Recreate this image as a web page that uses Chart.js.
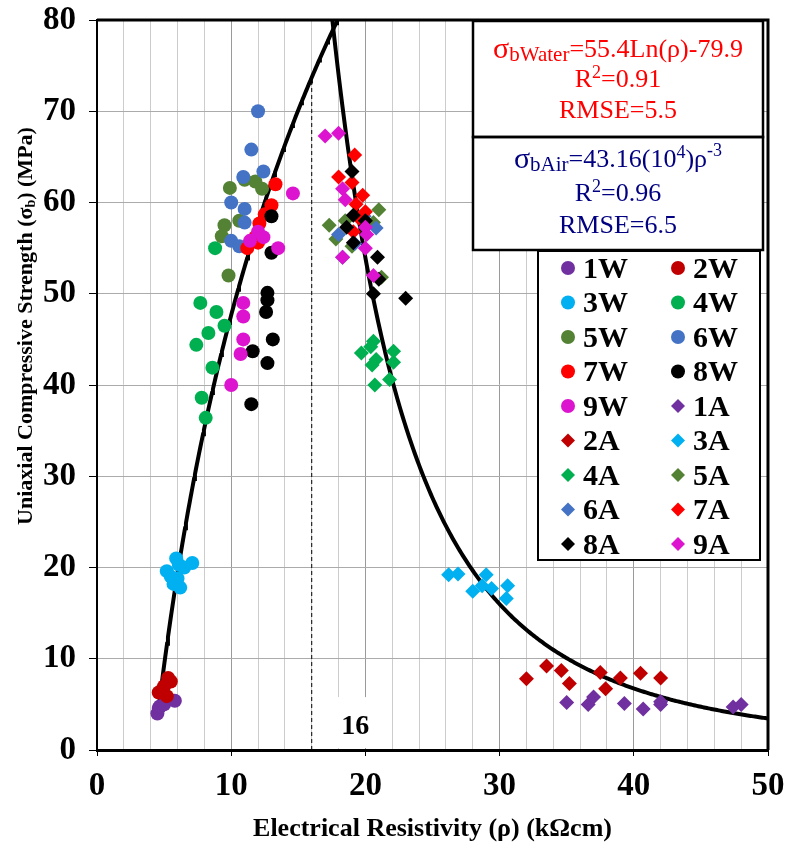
<!DOCTYPE html>
<html>
<head>
<meta charset="utf-8">
<script src="https://cdn.jsdelivr.net/npm/chart.js@4.4.0/dist/chart.umd.min.js"></script>
<style>
  html, body { margin: 0; padding: 0; background: #fff; }
  #wrap { position: relative; width: 788px; height: 849px; }
</style>
</head>
<body>
<div id="wrap"><canvas id="chart" width="788" height="849"></canvas></div>
<script>
// series names and colours (W = water saturated, A = air dry)
var seriesNames = ['1W', '2W', '3W', '4W', '5W', '6W', '7W', '8W', '9W',
                   '1A', '2A', '3A', '4A', '5A', '6A', '7A', '8A', '9A'];
var seriesColors = ['#7030A0', '#C00000', '#00B0F0', '#00B050', '#548235',
                    '#4472C4', '#FF0000', '#000000', '#DD14CF'];

// [resistivity kOhm.cm, strength MPa]
var data1W = [[4.5, 4.0], [4.6, 4.6], [4.7, 4.8], [5.0, 5.0], [5.8, 5.4]];
var data2W = [[5.3, 7.9], [5.5, 7.5], [5.0, 7.0], [4.6, 6.3], [5.2, 5.9], [4.8, 6.5]];
var data3W = [[5.2, 19.6], [5.5, 19.0], [5.9, 21.0], [6.1, 20.3], [6.5, 20.0],
              [7.1, 20.5], [5.7, 18.2], [6.2, 17.8], [6.0, 18.8]];
var data4W = [[8.8, 55.0], [7.7, 49.0], [8.9, 48.0], [9.5, 46.5], [8.3, 45.7],
              [7.4, 44.4], [8.6, 41.9], [7.8, 38.6], [8.1, 36.4]];
var data5W = [[9.9, 61.6], [11.0, 62.5], [11.8, 62.3], [12.3, 61.5], [9.5, 57.5],
              [9.3, 56.3], [10.6, 58.0], [9.8, 52.0]];
var data6W = [[12.0, 70.0], [11.5, 65.8], [12.4, 63.4], [10.9, 62.8], [10.0, 60.0],
              [11.0, 59.3], [11.0, 57.8], [10.0, 55.8], [10.6, 55.2]];
var data7W = [[13.3, 62.0], [13.0, 59.7], [12.5, 58.7], [12.1, 57.7], [11.8, 56.2],
              [11.2, 55.0], [12.0, 55.6]];
var data8W = [[13.0, 58.5], [13.0, 54.5], [12.7, 50.1], [12.7, 49.3], [12.6, 48.0],
              [13.1, 45.0], [11.6, 43.7], [12.7, 42.4], [11.5, 37.9]];
var data9W = [[14.6, 61.0], [12.0, 56.8], [12.4, 56.2], [11.4, 55.8], [13.5, 55.0],
              [10.9, 49.0], [10.9, 47.5], [10.9, 45.0], [10.7, 43.4], [10.0, 40.0]];
var data1A = [[35.0, 5.2], [36.6, 5.0], [37.0, 5.8], [39.3, 5.1], [40.7, 4.5],
              [42.0, 5.0], [42.0, 5.3], [47.4, 4.7], [48.0, 5.0]];
var data2A = [[32.0, 7.8], [33.5, 9.2], [34.6, 8.7], [35.2, 7.3], [37.5, 8.5],
              [37.9, 6.7], [39.0, 7.9], [40.5, 8.4], [42.0, 7.9]];
var data3A = [[26.2, 19.2], [26.9, 19.3], [29.0, 19.2], [28.0, 17.4], [28.7, 18.0],
              [29.4, 17.7], [30.6, 18.0], [30.5, 16.6]];
var data4A = [[20.6, 44.8], [20.4, 44.2], [19.7, 43.5], [20.8, 42.8], [20.5, 42.2],
              [22.1, 43.7], [22.1, 42.5], [20.7, 40.0], [21.8, 40.6]];
var data5A = [[17.3, 57.5], [17.8, 56.0], [18.5, 58.0], [19.0, 55.2], [20.6, 57.8],
              [21.0, 59.2], [21.2, 51.8]];
var data6A = [[18.0, 56.5], [18.3, 54.0], [19.2, 55.5], [19.9, 58.5], [20.8, 57.2]];
var data7A = [[19.2, 65.2], [18.0, 62.8], [19.0, 62.2], [19.8, 60.8], [19.3, 59.8],
              [20.0, 59.0], [19.5, 58.3], [19.1, 56.8]];
var data8A = [[19.0, 63.4], [19.1, 58.6], [18.6, 57.3], [20.0, 58.0], [19.1, 55.6],
              [20.9, 54.0], [21.0, 51.6], [20.6, 50.0], [23.0, 49.5]];
var data9A = [[17.0, 67.3], [18.0, 67.6], [18.3, 61.5], [18.5, 60.3], [20.0, 57.3],
              [20.1, 56.5], [20.0, 55.0], [18.3, 54.0], [20.6, 52.0]];

var allSeries = [data1W, data2W, data3W, data4W, data5W, data6W, data7W, data8W, data9W,
                 data1A, data2A, data3A, data4A, data5A, data6A, data7A, data8A, data9A];

// fitted curves printed on the chart
var waterA = 55.4, waterB = -79.9;      // sigma = 55.4 ln(rho) - 79.9
var airK = 43.16e4, airP = -3;          // sigma = 43.16e4 rho^-3
var waterRange = [4.55, 17.95];
var airRange = [17.5, 50];
var splitRho = 16;

var xTicks = [0, 10, 20, 30, 40, 50];
var serif = '"Liberation Serif", "Times New Roman", serif';

function waterFit(r) { return waterA * Math.log(r) + waterB; }
function airFit(r) { return airK * Math.pow(r, airP); }

function curvePoints(fn, from, to, n) {
    var pts = [];
    for (var i = 0; i <= n; i++) {
        var r = from + (to - from) * i / n;
        pts.push({x: r, y: fn(r)});
    }
    return pts;
}

var datasets = [];
allSeries.forEach(function (s, i) {
    var col = seriesColors[i % 9];
    var isAir = i >= 9;
    datasets.push({
        label: seriesNames[i],
        data: s.map(function (p) { return {x: p[0], y: p[1]}; }),
        pointStyle: isAir ? 'rectRot' : 'circle',
        pointRadius: isAir ? 7.5 : 7,
        backgroundColor: col,
        borderColor: col,
        borderWidth: 0,
        order: 100 - i
    });
});
datasets.push({
    label: 'water fit',
    data: curvePoints(waterFit, waterRange[0], waterRange[1], 200),
    showLine: true, pointRadius: 0, borderColor: '#000', borderWidth: 4,
    order: 200
});
datasets.push({
    label: 'air fit',
    data: curvePoints(airFit, airRange[0], airRange[1], 300),
    showLine: true, pointRadius: 0, borderColor: '#000', borderWidth: 4,
    order: 200
});
datasets.push({
    label: 'split',
    data: [{x: splitRho, y: 0}, {x: splitRho, y: waterFit(splitRho)}],
    showLine: true, pointRadius: 0, borderColor: '#000', borderWidth: 1,
    borderDash: [4, 3], order: 201
});

// draw a line of text made of parts (normal / sub / sup), centred at cx
function richText(ctx, parts, cx, cy, color) {
    var total = 0;
    parts.forEach(function (p) {
        ctx.font = p.font;
        p.w = ctx.measureText(p.t).width;
        total += p.w;
    });
    var x = cx - total / 2;
    ctx.fillStyle = color;
    ctx.textBaseline = 'middle';
    ctx.textAlign = 'left';
    parts.forEach(function (p) {
        ctx.font = p.font;
        ctx.fillText(p.t, x, cy + (p.dy || 0));
        x += p.w;
    });
}

// keep the plot area fixed: no extra room for overhanging tick labels
function noScalePadding(s) {
    s.paddingTop = 0;
    s.paddingBottom = 0;
    s.paddingLeft = 0;
    s.paddingRight = 0;
}

var overlay = {
    id: 'overlay',
    beforeDatasetsDraw: function (chart) {
        var ctx = chart.ctx;
        var xs = chart.scales.x, ys = chart.scales.y;
        // label box for the split value
        var bx = xs.getPixelForValue(17.6), by = ys.getPixelForValue(5.8);
        ctx.save();
        ctx.fillStyle = '#fff';
        ctx.fillRect(bx, by, 45, ys.getPixelForValue(0) - by - 2);
        ctx.fillStyle = '#000';
        ctx.font = 'bold 28px ' + serif;
        ctx.textAlign = 'center';
        ctx.textBaseline = 'middle';
        ctx.fillText(String(splitRho), bx + 22, ys.getPixelForValue(2.5));
        ctx.restore();
    },
    afterDraw: function (chart) {
        var ctx = chart.ctx, a = chart.chartArea;
        ctx.save();
        // top and right frame
        ctx.strokeStyle = '#000';
        ctx.lineWidth = 3;
        ctx.beginPath();
        ctx.moveTo(a.left, a.top);
        ctx.lineTo(a.right, a.top);
        ctx.lineTo(a.right, a.bottom);
        ctx.stroke();

        // equation boxes
        var L = 473, R = 763;
        ctx.fillStyle = '#fff';
        ctx.fillRect(L, a.top + 1, R - L, 230);
        ctx.lineWidth = 2.5;
        ctx.strokeRect(L, a.top + 1, R - L, 116);
        ctx.strokeRect(L, a.top + 117, R - L, 113);
        var cx = (L + R) / 2;
        var big = '26px ' + serif, small = '18px ' + serif;
        var sig = '30px ' + serif, sub = '21px ' + serif;
        var red = '#FF0000', navy = '#000080';
        richText(ctx, [{t: 'σ', font: sig}, {t: 'bWater', font: sub, dy: 5},
                       {t: '=55.4Ln(ρ)-79.9', font: big}], cx, 50, red);
        richText(ctx, [{t: 'R', font: big}, {t: '2', font: small, dy: -7},
                       {t: '=0.91', font: big}], cx, 80, red);
        richText(ctx, [{t: 'RMSE=5.5', font: big}], cx, 111, red);
        richText(ctx, [{t: 'σ', font: sig}, {t: 'bAir', font: sub, dy: 5},
                       {t: '=43.16(10', font: big}, {t: '4', font: small, dy: -7},
                       {t: ')ρ', font: big}, {t: '-3', font: small, dy: -9}], cx, 160, navy);
        richText(ctx, [{t: 'R', font: big}, {t: '2', font: small, dy: -7},
                       {t: '=0.96', font: big}], cx, 194, navy);
        richText(ctx, [{t: 'RMSE=6.5', font: big}], cx, 226, navy);

        // legend box, two columns
        var lx = 538, ly = 251, lw = 222, lh = 309;
        ctx.fillStyle = '#fff';
        ctx.fillRect(lx, ly, lw, lh);
        ctx.lineWidth = 2;
        ctx.strokeRect(lx, ly, lw, lh);
        ctx.font = 'bold 30px ' + serif;
        ctx.textBaseline = 'middle';
        ctx.textAlign = 'left';
        seriesNames.forEach(function (name, i) {
            var col = i % 2, row = Math.floor(i / 2);
            var mx = lx + 30 + col * 110, my = ly + 17 + row * 34.5;
            ctx.fillStyle = seriesColors[i % 9];
            ctx.beginPath();
            if (i < 9) {
                ctx.arc(mx, my, 7, 0, Math.PI * 2);
            } else {
                ctx.moveTo(mx, my - 7); ctx.lineTo(mx + 7, my);
                ctx.lineTo(mx, my + 7); ctx.lineTo(mx - 7, my);
                ctx.closePath();
            }
            ctx.fill();
            ctx.fillStyle = '#000';
            ctx.fillText(name, mx + 15, my + 2);
        });

        // y axis title with subscript
        ctx.translate(26, 326);
        ctx.rotate(-Math.PI / 2);
        richText(ctx, [{t: 'Uniaxial Compressive Strength (σ', font: 'bold 22px ' + serif},
                       {t: 'b', font: 'bold 14px ' + serif, dy: 5},
                       {t: ') (MPa)', font: 'bold 22px ' + serif}], 0, 0, '#000');
        ctx.restore();
    }
};

var chart = new Chart(document.getElementById('chart'), {
    type: 'scatter',
    data: {datasets: datasets},
    options: {
        responsive: false,
        animation: false,
        layout: {padding: {top: 20, right: 20, left: 0, bottom: 0}},
        plugins: {legend: {display: false}, tooltip: {enabled: false}},
        scales: {
            x: {
                type: 'linear', min: 0, max: 50,
                ticks: {
                    stepSize: 2, autoSkip: false, maxRotation: 0, padding: 11,
                    color: '#000', font: {family: serif, size: 33, weight: 'bold'},
                    callback: function (v) { return xTicks.indexOf(v) >= 0 ? v : ''; }
                },
                grid: {
                    color: function (c) { return c.tick && c.tick.value % 10 === 0 ? '#9a9a9a' : '#cccccc'; },
                    tickColor: function (c) { return c.tick && c.tick.value % 10 === 0 ? '#000' : 'rgba(0,0,0,0)'; },
                    tickLength: 6
                },
                border: {color: '#000', width: 3},
                title: {
                    display: true, text: 'Electrical Resistivity (ρ) (kΩcm)', color: '#000',
                    font: {family: serif, size: 26, weight: 'bold'}, padding: {top: 0, bottom: 4}
                },
                afterFit: function (s) { s.height = 99; noScalePadding(s); }
            },
            y: {
                min: 0, max: 80,
                ticks: {stepSize: 10, padding: 13, color: '#000',
                        font: {family: serif, size: 33, weight: 'bold'}},
                grid: {color: '#ababab', tickColor: '#000', tickLength: 8},
                border: {color: '#000', width: 2},
                afterFit: function (s) { s.width = 97; noScalePadding(s); }
            }
        }
    },
    plugins: [overlay]
});
</script>
</body>
</html>
